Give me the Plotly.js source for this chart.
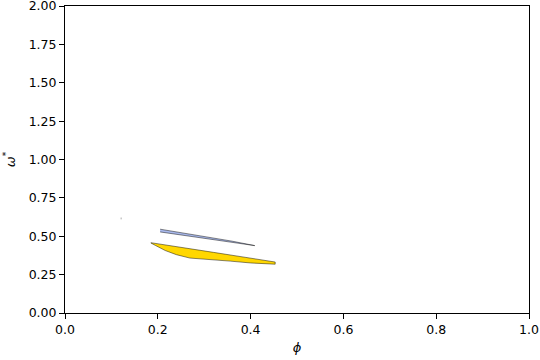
<!DOCTYPE html>
<html><head><meta charset="utf-8">
<script src="https://cdn.plot.ly/plotly-3.0.1.min.js"></script>
<style>html,body{margin:0;padding:0;background:#fff}#chart{width:540px;height:360px}</style>
</head><body><div id="chart"></div>
<script>
// Yellow region boundary (phi, omega*)
const yellowPhi   = [0.185, 0.25, 0.32, 0.39, 0.453, 0.453, 0.40, 0.356, 0.30, 0.269, 0.24, 0.216, 0.195, 0.185];
const yellowOmega = [0.458, 0.430, 0.395, 0.362, 0.332, 0.318, 0.326, 0.338, 0.350, 0.358, 0.380, 0.407, 0.440, 0.456];
// Blue band boundary
const bluePhi   = [0.205, 0.26, 0.31, 0.36, 0.409, 0.36, 0.31, 0.26, 0.205];
const blueOmega = [0.546, 0.519, 0.494, 0.468, 0.439, 0.461, 0.484, 0.507, 0.528];
// Tiny sliver
const sliverPhi   = [0.121, 0.121];
const sliverOmega = [0.610, 0.622];

const xTicks = [0, 0.2, 0.4, 0.6, 0.8, 1.0];
const xTickText = ['0.0', '0.2', '0.4', '0.6', '0.8', '1.0'];
const yTicks = [0, 0.25, 0.5, 0.75, 1.0, 1.25, 1.5, 1.75, 2.0];
const yTickText = ['0.00', '0.25', '0.50', '0.75', '1.00', '1.25', '1.50', '1.75', '2.00'];

const traces = [
  {x: yellowPhi, y: yellowOmega, type: 'scatter', mode: 'lines', fill: 'toself',
   fillcolor: '#ffd700', line: {color: '#111', width: 0.5}, hoverinfo: 'skip'},
  {x: bluePhi, y: blueOmega, type: 'scatter', mode: 'lines', fill: 'toself',
   fillcolor: '#a9b9ec', line: {color: '#111', width: 0.5}, hoverinfo: 'skip'},
  {x: sliverPhi, y: sliverOmega, type: 'scatter', mode: 'lines',
   line: {color: '#aaa', width: 1}, hoverinfo: 'skip'}
];

const axisCommon = {
  showgrid: false, zeroline: false, showline: true, linecolor: '#000', linewidth: 1,
  mirror: true, ticks: 'outside', ticklen: 5, tickwidth: 1, tickcolor: '#000',
  ticklabeloverflow: 'allow',
  tickfont: {family: 'DejaVu Sans', size: 12.5, color: '#000'}
};

const layout = {
  width: 540, height: 360,
  margin: {l: 65, r: 11, t: 6, b: 47},
  paper_bgcolor: '#fff', plot_bgcolor: '#fff',
  showlegend: false,
  font: {family: 'DejaVu Sans', size: 12.5, color: '#000'},
  xaxis: Object.assign({}, axisCommon, {
    range: [0, 1], tickvals: xTicks, ticktext: xTickText,
    title: {text: '<i>ϕ</i>', font: {family: 'DejaVu Sans', size: 13}, standoff: 6}
  }),
  yaxis: Object.assign({}, axisCommon, {
    range: [0, 2], tickvals: yTicks, ticktext: yTickText,
    title: {text: '<i>ω</i><sup>*</sup>', font: {family: 'DejaVu Sans', size: 13}, standoff: 10}
  })
};

Plotly.newPlot('chart', traces, layout, {staticPlot: true, displayModeBar: false});
</script></body></html>
